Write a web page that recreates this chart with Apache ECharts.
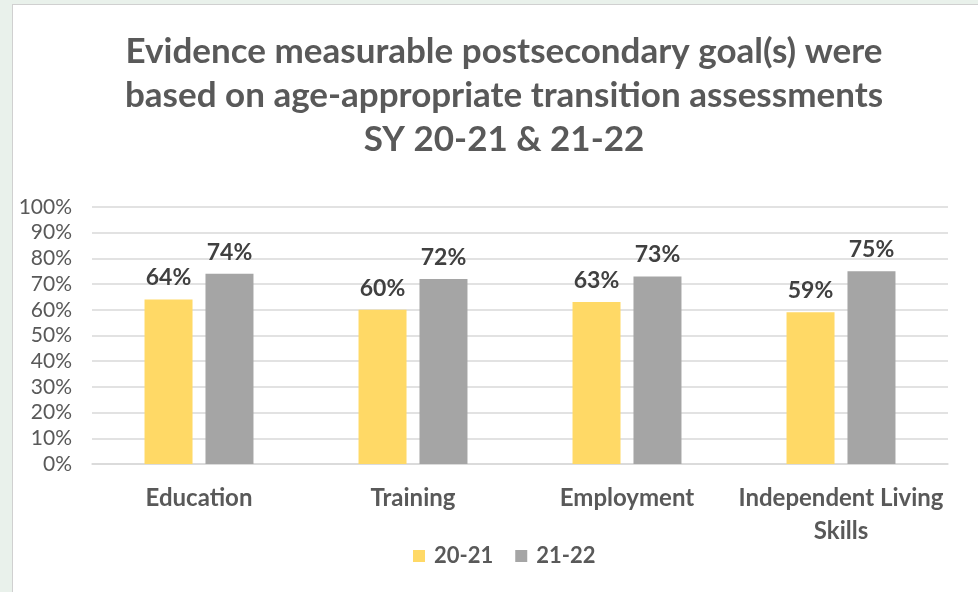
<!DOCTYPE html>
<html><head><meta charset="utf-8">
<script src="https://cdn.jsdelivr.net/npm/echarts@6/dist/echarts.min.js"></script>
<style>
html,body{margin:0;padding:0;background:#E9F1EB;}
#frame{position:absolute;left:12px;top:4px;width:966px;height:588px;background:#fff;border-left:1.5px solid #D0D0D0;border-top:1.5px solid #D0D0D0;box-sizing:border-box;}
#c{position:absolute;left:0;top:0;width:978px;height:592px;}
</style></head>
<body><div id="frame"></div><div id="c"></div>
<script>
const titleLines = ['Evidence measurable postsecondary goal(s) were', 'based on age-appropriate transition assessments', 'SY 20-21 & 21-22'];
const categories = ['Education', 'Training', 'Employment', 'Independent Living\nSkills'];
const seriesNames = ['20-21', '21-22'];
const values2021 = [64, 60, 63, 59];
const values2122 = [74, 72, 73, 75];
const yTicks = [0, 10, 20, 30, 40, 50, 60, 70, 80, 90, 100];

const chart = echarts.init(document.getElementById('c'), null, {renderer: 'canvas'});
const font = 'Lato';
chart.setOption({
  backgroundColor: 'transparent',
  animation: false,
  title: {
    text: titleLines.join('\n'),
    left: 499, top: 25, textAlign: 'center',
    textStyle: {fontFamily: font, fontWeight: 'bold', fontSize: 35, color: '#595959', lineHeight: 44}
  },
  legend: {
    data: seriesNames, bottom: 20, left: 408,
    itemWidth: 12, itemHeight: 12, itemGap: 22, icon: 'rect',
    textStyle: {fontFamily: font, fontWeight: 'bold', fontSize: 22, color: '#595959', padding: [0, 0, 0, 4]}
  },
  grid: {left: 92, right: 30, top: 207, bottom: 128},
  xAxis: {
    type: 'category', data: categories,
    axisLine: {lineStyle: {color: '#D9D9D9', width: 1.5}},
    axisTick: {show: false},
    axisLabel: {fontFamily: font, fontWeight: 'bold', fontSize: 24, color: '#595959', margin: 18, lineHeight: 33, interval: 0}
  },
  yAxis: {
    type: 'value', min: yTicks[0], max: yTicks[yTicks.length - 1], interval: 10,
    axisLabel: {formatter: v => v + '%', fontFamily: font, fontSize: 21, color: '#595959', margin: 20},
    splitLine: {lineStyle: {color: '#D9D9D9', width: 1.5}},
    axisLine: {show: false}, axisTick: {show: false}
  },
  series: [
    {name: seriesNames[0], type: 'bar', data: values2021, barWidth: 48, barGap: '27%',
     itemStyle: {color: '#FFD966'},
     label: {show: true, position: 'top', distance: 10, formatter: p => p.value + '%', fontFamily: font, fontWeight: 'bold', fontSize: 23, color: '#404040'}},
    {name: seriesNames[1], type: 'bar', data: values2122, barWidth: 48,
     itemStyle: {color: '#A5A5A5'},
     label: {show: true, position: 'top', distance: 10, formatter: p => p.value + '%', fontFamily: font, fontWeight: 'bold', fontSize: 23, color: '#404040'}}
  ]
});
</script></body></html>
